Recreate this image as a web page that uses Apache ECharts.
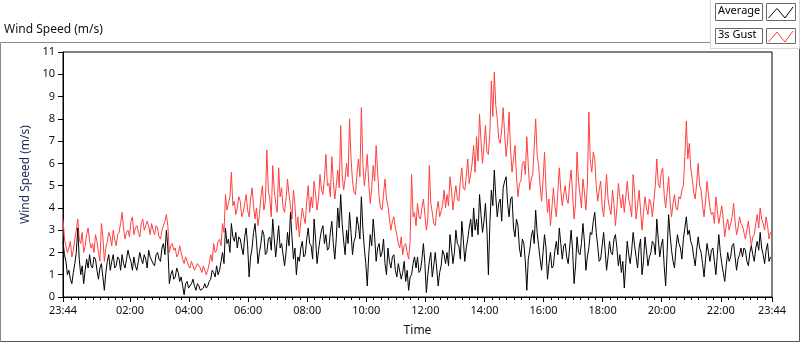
<!DOCTYPE html>
<html>
<head>
<meta charset="utf-8">
<title>Wind Speed</title>
<script src="https://cdn.jsdelivr.net/npm/echarts@6/dist/echarts.min.js"></script>
<style>
html, body { margin: 0; padding: 0; background: #fff; }
#chart { width: 800px; height: 342px; }
</style>
</head>
<body>
<div id="chart"></div>
<script>
// one sample every 3 minutes, starting 23:44 (20 per row = 1 hour)
const stepMinutes = 3

const gust = [
  3.5, 2.6, 2.3, 2.0, 2.2, 2.5, 1.8, 2.1, 2.6, 3.0, 3.5, 2.6, 2.4, 2.9, 2.0, 2.3, 2.8, 3.1, 2.5, 2.2,
  2.4, 2.0, 2.8, 2.5, 2.0, 1.6, 3.3, 2.7, 1.6, 2.2, 2.5, 2.9, 2.7, 2.3, 3.0, 2.6, 2.3, 2.8, 2.9, 3.3,
  3.8, 3.1, 2.6, 2.9, 3.0, 2.7, 3.4, 3.6, 2.8, 3.1, 3.2, 2.9, 2.7, 3.3, 3.5, 3.0, 3.0, 3.4, 3.2, 2.8,
  3.3, 3.0, 2.8, 3.2, 3.1, 2.7, 2.6, 3.0, 3.0, 3.4, 3.7, 3.2, 2.0, 2.3, 2.4, 2.1, 2.2, 1.8, 1.9, 2.3,
  2.0, 1.7, 1.5, 1.8, 1.8, 1.4, 1.3, 1.6, 1.6, 1.2, 1.2, 1.5, 1.5, 1.3, 1.1, 1.4, 1.4, 1.0, 1.2, 1.5,
  1.9, 1.6, 2.4, 2.0, 2.1, 2.5, 2.6, 2.3, 3.3, 2.9, 4.6, 3.9, 4.2, 4.5, 5.6, 4.1, 4.3, 3.7, 4.0, 4.5,
  4.3, 3.6, 3.8, 4.2, 4.6, 3.9, 3.6, 4.4, 4.9, 4.1, 3.5, 4.0, 3.2, 3.7, 4.5, 5.0, 3.9, 4.3, 6.6, 4.8,
  4.4, 3.6, 5.9, 4.8, 4.2, 3.8, 5.8, 4.5, 4.9, 4.0, 3.8, 4.4, 5.3, 4.6, 4.1, 3.5, 4.8, 4.2, 3.0, 3.6,
  2.7, 3.4, 4.0, 3.6, 3.3, 4.3, 5.0, 3.8, 4.5, 4.0, 5.2, 4.6, 3.9, 4.4, 5.5, 4.8, 4.6, 5.3, 6.4, 5.0,
  5.1, 4.5, 6.3, 5.2, 4.4, 5.0, 5.7, 4.9, 7.7, 5.5, 4.8, 5.3, 6.0, 5.4, 8.0, 6.2, 5.2, 4.7, 4.6, 5.5,
  6.2, 5.4, 8.5, 6.0, 5.0, 5.6, 6.4, 5.1, 4.2, 4.9, 5.9, 5.2, 6.8, 5.6, 4.5, 4.0, 3.9, 4.6, 5.3, 4.4,
  4.1, 3.5, 3.0, 3.4, 3.6, 3.1, 2.8, 2.4, 2.2, 2.7, 1.9, 2.3, 2.4, 2.0, 1.7, 2.5, 5.5, 3.6, 3.8, 3.2,
  4.2, 3.6, 3.5, 4.0, 4.4, 3.7, 3.0, 3.5, 5.9, 4.2, 3.8, 3.3, 3.2, 3.9, 4.3, 3.6, 3.6, 4.1, 4.8, 4.0,
  4.6, 4.1, 5.4, 4.8, 3.9, 4.5, 5.0, 4.4, 4.3, 5.2, 5.8, 4.9, 4.8, 5.4, 6.2, 5.1, 5.5, 6.0, 6.8, 5.6,
  7.2, 6.1, 8.2, 7.0, 6.0, 6.8, 7.7, 6.5, 6.4, 7.4, 9.7, 8.1, 10.1, 8.6, 8.0, 7.1, 6.9, 7.5, 8.5, 7.3,
  6.3, 7.0, 8.3, 6.6, 5.6, 6.2, 6.8, 5.4, 4.5, 5.1, 5.2, 6.0, 6.1, 5.5, 7.2, 5.9, 4.8, 5.3, 5.5, 6.7,
  8.0, 6.4, 5.9, 5.0, 4.3, 5.2, 6.5, 4.9, 3.8, 4.4, 3.2, 4.0, 4.9, 4.1, 3.6, 4.7, 5.8, 4.8, 4.1, 4.6,
  5.0, 4.4, 4.2, 5.1, 5.7, 4.6, 3.5, 4.2, 6.5, 5.2, 4.6, 4.0, 5.3, 4.7, 3.9, 5.0, 8.3, 6.1, 5.6, 6.5,
  6.2, 5.0, 4.3, 4.8, 5.2, 4.1, 3.6, 4.5, 5.5, 4.4, 4.0, 3.7, 4.8, 4.2, 3.2, 4.0, 5.1, 4.5, 4.0, 4.6,
  3.8, 4.5, 5.2, 4.4, 4.1, 3.6, 5.5, 4.7, 3.5, 4.1, 4.8, 3.9, 3.0, 3.8, 4.5, 4.0, 3.7, 4.4, 4.2, 3.6,
  4.3, 5.0, 6.2, 5.1, 4.9, 5.6, 5.8, 4.6, 4.0, 4.7, 5.4, 4.3, 3.6, 4.2, 4.6, 4.0, 3.9, 4.5, 4.4, 4.8,
  5.0, 6.3, 7.9, 6.2, 6.9, 5.8, 5.3, 4.7, 4.4, 5.1, 6.0, 5.0, 4.8, 4.1, 3.6, 4.3, 5.2, 4.6, 4.0, 3.7,
  3.8, 3.3, 4.5, 3.9, 3.3, 3.7, 4.1, 3.5, 2.7, 3.2, 3.5, 3.0, 3.0, 3.6, 4.2, 3.4, 2.8, 3.1, 3.6, 3.3,
  3.2, 2.9, 2.6, 3.0, 3.4, 2.8, 2.3, 2.7, 2.8, 3.3, 3.7, 3.1, 4.0, 3.5, 3.3, 3.0, 3.6, 3.2, 2.6, 2.9
]

const average = [
  2.5, 1.9, 1.6, 1.0, 1.2, 0.8, 0.6, 1.1, 1.5, 2.0, 3.1, 1.7, 1.0, 1.4, 0.6, 1.2, 1.7, 1.3, 1.9, 1.4,
  1.3, 1.8, 1.7, 1.2, 0.8, 1.3, 1.5, 0.9, 0.3, 1.1, 1.6, 1.9, 1.2, 1.6, 1.9, 1.3, 1.4, 1.8, 1.7, 1.2,
  1.9, 1.5, 1.3, 1.7, 2.1, 1.8, 1.6, 1.2, 1.8, 1.4, 1.2, 1.6, 2.0, 1.7, 1.5, 1.9, 1.7, 1.3, 2.1, 1.8,
  1.8, 1.5, 1.4, 1.9, 2.0, 1.7, 1.6, 2.2, 2.4, 1.9, 3.0, 2.2, 0.6, 1.0, 1.2, 0.8, 0.9, 1.3, 1.1, 0.7,
  0.9, 0.5, 0.1, 0.6, 0.7, 0.4, 0.4, 0.6, 0.8, 0.5, 0.3, 0.6, 0.5, 0.3, 0.3, 0.4, 0.6, 0.4, 0.5, 0.7,
  0.8, 1.2, 1.1, 0.9, 1.4, 1.0, 1.2, 1.6, 2.0, 1.5, 3.1, 2.4, 2.6, 2.0, 3.3, 2.7, 2.5, 2.9, 2.2, 2.7,
  2.6, 2.2, 1.9, 2.7, 3.1, 2.3, 0.9, 1.8, 2.2, 2.9, 3.3, 2.5, 1.5, 2.0, 2.4, 3.0, 2.8, 1.9, 2.0, 2.6,
  2.7, 2.1, 3.5, 2.6, 1.8, 2.5, 3.2, 2.2, 2.4, 1.9, 1.4, 2.0, 2.9, 2.3, 3.8, 2.7, 1.7, 2.2, 1.0, 1.8,
  1.6, 2.2, 2.5, 1.8, 1.9, 2.6, 3.1, 2.4, 2.3, 1.7, 3.5, 2.6, 1.5, 2.1, 2.6, 3.0, 3.2, 2.4, 2.8, 2.1,
  2.2, 2.9, 3.4, 2.4, 1.7, 2.6, 4.0, 3.1, 4.6, 3.3, 2.5, 1.9, 3.0, 2.4, 3.8, 2.9, 1.9, 2.5, 2.7, 3.6,
  3.2, 2.6, 4.5, 3.1, 2.2, 1.5, 0.5, 1.9, 2.8, 2.3, 3.5, 2.7, 1.6, 2.2, 2.4, 1.8, 2.0, 2.6, 1.5, 1.0,
  2.2, 1.6, 1.3, 1.8, 1.9, 1.2, 0.9, 1.5, 1.5, 0.8, 1.1, 1.6, 0.7, 1.2, 0.3, 0.9, 1.0, 1.5, 1.8, 1.3,
  1.8, 1.1, 1.2, 1.7, 2.4, 1.5, 0.2, 1.0, 1.6, 2.0, 0.9, 1.4, 2.0, 1.3, 0.5, 1.1, 1.4, 2.1, 1.9, 1.5,
  2.0, 1.4, 2.8, 2.2, 1.5, 2.0, 3.0, 2.4, 2.3, 1.7, 3.4, 2.6, 1.6, 2.2, 2.6, 3.1, 3.5, 2.7, 4.0, 3.0,
  3.5, 2.8, 4.6, 3.7, 2.9, 3.4, 4.2, 3.0, 1.0, 3.3, 4.8, 4.1, 5.7, 4.5, 3.6, 4.2, 4.4, 3.4, 4.9, 5.2,
  5.4, 4.2, 3.6, 4.4, 4.5, 3.1, 2.7, 3.5, 3.2, 2.2, 1.8, 2.6, 2.4, 1.6, 0.3, 1.7, 2.1, 2.7, 3.0, 2.4,
  3.9, 2.9, 2.3, 1.7, 1.2, 2.0, 2.8, 2.2, 0.8, 1.5, 2.0, 1.3, 1.4, 2.1, 2.5, 1.9, 3.1, 2.4, 1.7, 2.3,
  2.4, 1.8, 1.5, 2.2, 3.0, 2.1, 0.6, 1.4, 2.7, 2.0, 1.9, 2.4, 3.3, 2.5, 1.2, 1.8, 2.2, 2.9, 2.8, 3.4,
  3.8, 2.9, 2.3, 1.6, 1.7, 2.3, 2.9, 2.1, 1.2, 1.8, 2.5, 2.0, 1.9, 2.6, 2.8, 2.2, 1.4, 1.9, 1.1, 1.6,
  0.4, 1.5, 2.5, 1.9, 1.5, 2.1, 2.9, 2.3, 1.8, 1.3, 2.2, 2.6, 1.0, 1.6, 2.7, 2.1, 1.4, 1.8, 2.0, 2.5,
  2.4, 1.9, 3.5, 2.6, 1.8, 2.3, 2.6, 1.4, 0.5, 2.0, 3.7, 2.8, 2.1, 1.6, 1.3, 2.2, 2.8, 2.4, 2.2, 1.7,
  2.6, 3.1, 3.6, 2.8, 3.0, 2.5, 2.3, 1.8, 1.4, 2.1, 2.7, 2.2, 2.0, 1.5, 0.9, 1.7, 2.4, 2.0, 1.6, 2.1,
  2.2, 1.6, 1.0, 1.9, 2.8, 2.0, 1.5, 1.1, 0.7, 1.4, 2.0, 1.6, 1.8, 2.3, 2.4, 1.8, 1.2, 1.7, 1.9, 2.2,
  1.8, 2.2, 2.1, 1.6, 1.4, 2.0, 2.3, 1.9, 1.6, 2.2, 2.5, 2.1, 2.9, 2.2, 1.9, 1.5, 2.1, 2.4, 1.6, 1.8
]

// minutes after 23:44 and their labels
const tickMinutes = [0, 136, 256, 376, 496, 616, 736, 856, 976, 1096, 1216, 1336, 1440]
const tickLabels = ['23:44', '02:00', '04:00', '06:00', '08:00', '10:00', '12:00',
  '14:00', '16:00', '18:00', '20:00', '22:00', '23:44']

// small ticks every quarter hour from 00:00
const minorTicks = []
for (let m = 16; m < 1440; m += 15) {
  if (tickMinutes.indexOf(m) < 0) minorTicks.push(m)
}

const font = 'Noto Sans'
const chart = echarts.init(document.getElementById('chart'))

const option = {
  animation: false,
  textStyle: { fontFamily: font },
  grid: {
    left: 63, right: 28, top: 52, bottom: 39,
    show: true, borderColor: '#000', borderWidth: 1
  },
  xAxis: [
    {
      type: 'value',
      min: 0,
      max: 1440,
      name: 'Time',
      nameLocation: 'middle',
      nameGap: 28,
      nameTextStyle: { color: '#111', fontSize: 12, fontFamily: font },
      axisLine: { lineStyle: { color: '#000' } },
      axisTick: { customValues: tickMinutes, length: 5, lineStyle: { color: '#000' } },
      axisLabel: {
        customValues: tickMinutes,
        color: '#111',
        fontSize: 11,
        margin: 8,
        formatter: (v) => tickLabels[tickMinutes.indexOf(v)]
      },
      splitLine: { show: false }
    },
    {
      type: 'value',
      min: 0,
      max: 1440,
      position: 'bottom',
      axisLine: { show: false },
      axisTick: { customValues: minorTicks, length: 3, lineStyle: { color: '#000' } },
      axisLabel: { show: false },
      splitLine: { show: false }
    }
  ],
  yAxis: {
    type: 'value',
    min: 0,
    max: 11,
    interval: 1,
    name: 'Wind Speed (m/s)',
    nameLocation: 'middle',
    nameRotate: 90,
    nameGap: 30,
    nameTextStyle: { color: '#1c2a55', fontSize: 12, fontFamily: font },
    axisLine: { show: true, lineStyle: { color: '#000' } },
    axisTick: { show: true, length: 5, lineStyle: { color: '#000' } },
    axisLabel: { color: '#111', fontSize: 11, margin: 8 },
    splitLine: { show: false }
  },
  series: [
    {
      name: '3s Gust',
      type: 'line',
      showSymbol: false,
      data: gust.map((v, i) => [i * stepMinutes, v]),
      lineStyle: { color: '#ff4040', width: 1 },
      itemStyle: { color: '#ff4040' }
    },
    {
      name: 'Average',
      type: 'line',
      showSymbol: false,
      data: average.map((v, i) => [i * stepMinutes, v]),
      lineStyle: { color: '#000', width: 1 },
      itemStyle: { color: '#000' }
    }
  ],
  graphic: [
    // outer panel
    { type: 'polyline', shape: { points: [[0.5, 341.5], [0.5, 42.5], [710.5, 42.5]] },
      style: { stroke: '#8a8a8a', fill: null, lineWidth: 1 } },
    { type: 'polyline', shape: { points: [[799.5, 0], [799.5, 341.5], [0.5, 341.5]] },
      style: { stroke: '#555', fill: null, lineWidth: 1 } },
    { type: 'rect', shape: { x: 710.5, y: -1, width: 89, height: 49.5 },
      style: { stroke: '#d6d6d6', fill: '#fff', lineWidth: 1 } },
    // title
    { type: 'text', left: 4, top: 24,
      style: { text: 'Wind Speed (m/s)', fill: '#111', font: '12px ' + font } },
    // legend
    { type: 'rect', shape: { x: 715.5, y: 3.5, width: 47, height: 17 },
      style: { stroke: '#6a6a6a', fill: '#fff', lineWidth: 1 } },
    { type: 'text', left: 718, top: 5,
      style: { text: 'Average', fill: '#000', font: '11px ' + font } },
    { type: 'rect', shape: { x: 766.5, y: 3.5, width: 29, height: 17 },
      style: { stroke: '#6a6a6a', fill: '#fff', lineWidth: 1 } },
    { type: 'polyline', shape: { points: [[768.5, 18], [777, 8.5], [785, 18], [793, 7]] },
      style: { stroke: '#000', fill: null, lineWidth: 1 } },
    { type: 'rect', shape: { x: 715.5, y: 28.5, width: 47, height: 15 },
      style: { stroke: '#6a6a6a', fill: '#fff', lineWidth: 1 } },
    { type: 'text', left: 718, top: 29,
      style: { text: '3s Gust', fill: '#000', font: '11px ' + font } },
    { type: 'rect', shape: { x: 766.5, y: 28.5, width: 29, height: 15 },
      style: { stroke: '#6a6a6a', fill: '#fff', lineWidth: 1 } },
    { type: 'polyline', shape: { points: [[768.5, 42], [777, 32], [785, 42], [793, 31]] },
      style: { stroke: '#ff4040', fill: null, lineWidth: 1 } }
  ]
}

chart.setOption(option)
</script>
</body>
</html>
